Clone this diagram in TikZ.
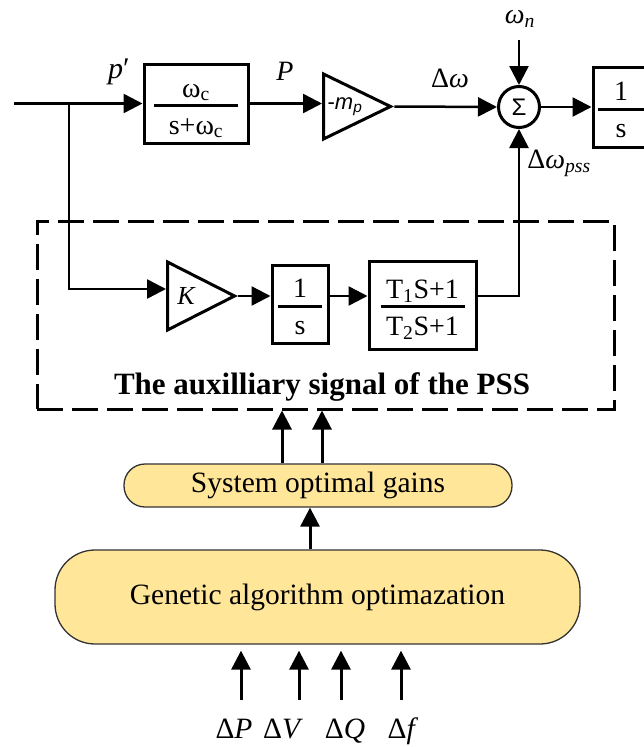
\documentclass[tikz,border=0pt]{standalone}
\usepackage{fontspec}
\setmainfont{Liberation Serif}
\setsansfont{Liberation Sans}
\usepackage{tikz}
\usetikzlibrary{arrows.meta,positioning,shapes.geometric}
\definecolor{gayellow}{RGB}{255,230,153}
\newcommand{\blkfrac}[3]{\rule{0pt}{28pt}#1\\[-20pt]\rule{#3}{3pt}\\[-3pt]\rule[-4pt]{0pt}{4pt}#2}
\tikzset{
	blk/.style={draw, line width=3pt, inner sep=0pt, align=center,
		font=\fontsize{28}{30}\selectfont},
	tri/.style={draw, line width=3pt, isosceles triangle, isosceles triangle stretches,
		inner sep=0pt, anchor=lower side},
	sumc/.style={draw, circle, line width=3pt, minimum size=41pt, inner sep=0pt,
		font=\sffamily\fontsize{24}{24}\selectfont},
	sig/.style={line width=2.5pt, -{Triangle[length=19pt,width=19pt]}},
	lbl/.style={font=\fontsize{28}{30}\selectfont, inner sep=0pt},
	pssbox/.style={draw, line width=3pt, dash pattern=on 26pt off 9pt, inner sep=0pt},
	gbox/.style={draw=black!80, line width=1.3pt, fill=gayellow, inner sep=0pt,
		font=\fontsize{29.5}{31}\selectfont},
	inp/.style={font=\fontsize{29.5}{31}\selectfont, inner sep=0pt, anchor=base},
}
\begin{document}
\begin{tikzpicture}[x=1pt, y=-1pt]
	\useasboundingbox (0,0) rectangle (644,747);
	\clip (0,0) rectangle (644,747);
	% forward path
	\node[blk, minimum width=104pt, minimum height=79pt] at (196,103.5) (filt) {\blkfrac{ω\textsubscript{c}}{s+ω\textsubscript{c}}{84pt}};
	\node[tri, minimum width=65pt, minimum height=67pt] at (322,106.5) (mp) {\sffamily\fontsize{22}{24}\selectfont -\textit{m}\textsubscript{\textit{p}}};
	\node[sumc] at (519,107) (sum) {Σ};
	\node[blk, minimum width=56pt, minimum height=80pt] at (621,107) (int) {\blkfrac{1}{s}{46pt}};
	\node[lbl, font=\fontsize{30}{32}\selectfont] at (119,72) (lp) {\textit{p}′};
	\node[lbl] at (285,71) (lP) {\textit{P}};
	\node[lbl] at (450,78) (ldw) {Δ\textit{ω}};
	\node[lbl] at (520,19) (lwn) {\textit{ω}\textsubscript{\textit{n}}};
	\node[lbl] at (559,163) (lpss) {Δ\textit{ω}\textsubscript{\textit{pss}}};
	\coordinate (in) at (14,103.5);
	\coordinate (br) at (69,103.5);
	\coordinate (wnin) at (519,40);
	% PSS block
	\node[pssbox, minimum width=577pt, minimum height=188pt] at (325.5,315) (pss) {};
	\node[tri, minimum width=68pt, minimum height=67pt] at (166,296) (k) {\fontsize{26}{28}\selectfont\textit{K}};
	\node[blk, minimum width=56pt, minimum height=78pt] at (300,304) (s2) {\blkfrac{1}{s}{44pt}};
	\node[blk, minimum width=107pt, minimum height=88pt] at (422.5,305) (tf) {\blkfrac{T\textsubscript{1}S+1}{T\textsubscript{2}S+1}{84pt}};
	\node[font=\bfseries\fontsize{31}{33}\selectfont, anchor=base, inner sep=0pt] at (322,394) (psslbl) {The auxilliary signal of the PSS};
	% optimisation
	\node[gbox, rounded corners=21pt, minimum width=388pt, minimum height=43pt] at (318,485.5) (sog) {System optimal gains};
	\node[gbox, rounded corners=40pt, minimum width=525pt, minimum height=94pt] at (317.5,597) (ga) {Genetic algorithm optimazation};
	\node[inp] at (234,738) (dp) {Δ\textit{P}};
	\node[inp] at (283,738) (dv) {Δ\textit{V}};
	\node[inp] at (345,738) (dq) {Δ\textit{Q}};
	\node[inp] at (403,738) (df) {Δ\textit{f}};
	\coordinate (inP) at (241,700);
	\coordinate (inV) at (299,700);
	\coordinate (inQ) at (341,700);
	\coordinate (inF) at (401,700);
	% connectors
	\draw[sig] (in) -- (filt.west);
	\draw[sig] (filt.east) -- (filt.east -| mp.lower side);
	\draw[sig] (mp.apex) -- (sum.west);
	\draw[sig] (wnin) -- (sum.north);
	\draw[sig] (sum.east) -- (int.west);
	\draw[sig] (br) |- ([yshift=7pt]k.lower side);
	\draw[sig] (k.apex) -- (k.apex -| s2.west);
	\draw[sig] (s2.east |- k.apex) -- (k.apex -| tf.west);
	\draw[sig] ([yshift=9pt]tf.east) -| (sum.south);
	\draw[sig, line width=3pt] ([xshift=-36pt]sog.north) -- ([xshift=-36pt]sog.north |- pss.south);
	\draw[sig, line width=3pt] ([xshift=4pt]sog.north) -- ([xshift=4pt]sog.north |- pss.south);
	\draw[sig, line width=3pt] ([xshift=-7.5pt]ga.north) -- ([xshift=-7.5pt]ga.north |- sog.south);
	\foreach \c in {inP,inV,inQ,inF}
		\draw[sig, line width=3pt, shorten >=6pt] (\c) -- (\c |- ga.south);
\end{tikzpicture}
\end{document}
